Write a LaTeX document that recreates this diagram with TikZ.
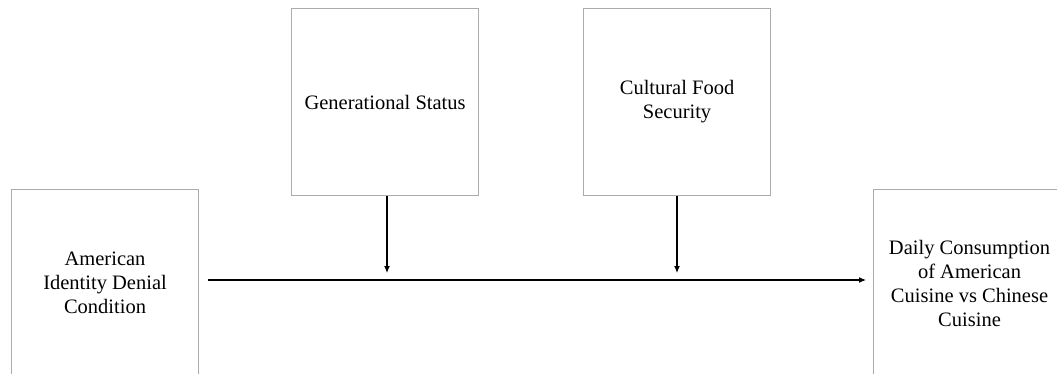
\documentclass[tikz,border=0pt]{standalone}
\usepackage{fontspec}
\setmainfont{Liberation Serif}
\usetikzlibrary{arrows.meta}
\begin{document}
\begin{tikzpicture}[x=1pt,y=-1pt,
  varbox/.style={draw=black!33,line width=1.1pt,minimum width=187pt,minimum height=187pt,
    inner sep=0pt,align=center,font=\fontsize{20.5}{24}\selectfont,anchor=north west},
  conn/.style={line width=1.2pt,-{Latex[length=7pt,width=6pt]}}]
\useasboundingbox (0,0) rectangle (1057,373);
\clip (0,0) rectangle (1057,373);
\fill[white] (0,0) rectangle (1057,373);
\node[varbox] (iv) at (11,189) {American\\Identity Denial\\Condition};
\node[varbox] (gen) at (291,8) {Generational Status};
\node[varbox] (cfs) at (583,8) {Cultural Food\\Security};
\node[varbox,minimum width=192pt] (dv) at (873,189) {Daily Consumption\\of American\\Cuisine vs Chinese\\Cuisine};
\coordinate (s) at (208,280);
\coordinate (e) at (866,280);
\draw[conn] (s) -- (e);
\coordinate (g) at (387,273);
\coordinate (c) at (677,273);
\draw[conn] (gen.south -| g) -- (g);
\draw[conn] (cfs.south -| c) -- (c);
\end{tikzpicture}
\end{document}
